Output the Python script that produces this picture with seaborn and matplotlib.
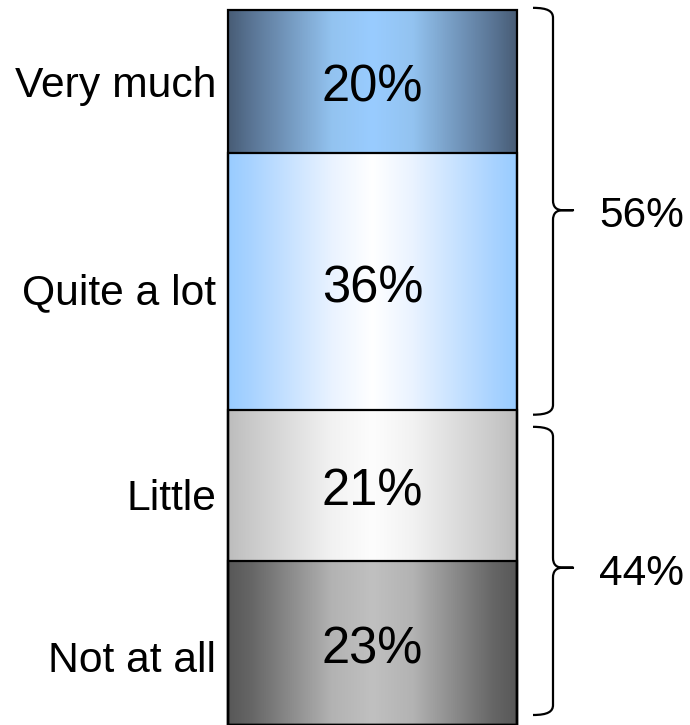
import numpy as np
import pandas as pd
import matplotlib
matplotlib.use("Agg")
import matplotlib.pyplot as plt
from matplotlib.path import Path
from matplotlib.patches import PathPatch
from matplotlib.colors import LinearSegmentedColormap
import seaborn as sns

# ---- data -------------------------------------------------------------
categories = ["Not at all", "Little", "Quite a lot", "Very much"]   # bottom -> top
shares = [23, 21, 36, 20]
group_members = [[0, 1], [2, 3]]   # "Not at all"+"Little", "Quite a lot"+"Very much"

# horizontal gradient stops (edge -> centre) for each segment
gradients = {
    "Very much":   ["#485d76", "#5a7595", "#93c3f0", "#99ccff"],
    "Quite a lot": ["#99ccff", "#a9d3ff", "#eaf3ff", "#ffffff"],
    "Little":      ["#bdbdbd", "#cacaca", "#f2f2f2", "#fdfdfd"],
    "Not at all":  ["#585858", "#666666", "#b3b3b3", "#c0c0c0"],
}

# ---- figure -----------------------------------------------------------
W, H, DPI = 690, 725, 100
sns.set_theme(style="white")
plt.rcParams["font.family"] = ["Liberation Sans", "DejaVu Sans"]

fig = plt.figure(figsize=(W / DPI, H / DPI), dpi=DPI)
ax = fig.add_axes([0, 0, 1, 1])

cum = np.cumsum(shares)
df = pd.DataFrame({"bar": [""] * len(categories), "top": cum, "level": categories})

BAR_W = 0.8
sns.barplot(data=df, x="bar", y="top", hue="level", hue_order=categories[::-1],
            dodge=False, legend=False, errorbar=None, width=BAR_W, ax=ax,
            edgecolor="black", linewidth=1.6)

# pixel-based limits so the bar sits at a fixed place on the canvas
px_per_unit = 289 / BAR_W
x_lo = -372.5 / px_per_unit
x_hi = x_lo + W / px_per_unit
y_hi = 100 * H / 715.0


def px2x(px):
    return x_lo + px / px_per_unit


def px2dy(px):
    return px * 100 / 715.0


# gradient fills under the bar outlines
patches = sorted(ax.patches, key=lambda p: p.get_height())
xs = np.linspace(0, 1, 400)
for i, (name, patch) in enumerate(zip(categories, patches)):
    patch.set_facecolor("none")
    patch.set_zorder(3)
    x0, w = patch.get_x(), patch.get_width()
    top = patch.get_height()
    bottom = cum[i - 1] if i > 0 else 0
    stops = gradients[name]
    cmap = LinearSegmentedColormap.from_list(
        name, [(0.0, stops[0]), (0.08, stops[1]), (0.36, stops[2]), (0.5, stops[3]),
               (0.64, stops[2]), (0.92, stops[1]), (1.0, stops[0])])
    ax.imshow(xs[None, :], cmap=cmap, vmin=0, vmax=1, aspect="auto",
              extent=[x0, x0 + w, bottom, top], interpolation="bilinear", zorder=2)
    mid = (bottom + top) / 2
    ax.text(0, mid - px2dy(7), f"{shares[i]}%", ha="center", va="center",
            fontsize=36.5, color="black", zorder=4)

# category labels to the left of the bar
label_shift = [18, 14, 12, 5]
for i, name in enumerate(categories):
    bottom = cum[i - 1] if i > 0 else 0
    mid = (bottom + cum[i]) / 2
    ax.text(px2x(216), mid - px2dy(label_shift[i]), name, ha="right", va="center",
            fontsize=30.7, color="black")

# curly braces with the group totals
brace_trim = [(1.4, -2.3), (-0.6, 0.3)]
r = px2dy(10)
for (members, (tb, tt)) in zip(group_members, brace_trim):
    lo = cum[members[0] - 1] if members[0] > 0 else 0
    hi = cum[members[-1]]
    total = sum(shares[m] for m in members)
    top, bot, tip = hi + tt, lo + tb, (lo + hi) / 2
    xo, xm, xt = px2x(533), px2x(553), px2x(573)
    xq = px2x(5) - px2x(0)
    verts = [
        (xo, top), (xm - xq, top), (xm, top - r * 0.35), (xm, top - r),
        (xm, tip + r),
        (xm, tip + r * 0.35), (xm + xq * 0.6, tip), (xm + 2 * xq, tip),
        (xt, tip),
        (xm + 2 * xq, tip),
        (xm + xq * 0.6, tip), (xm, tip - r * 0.35), (xm, tip - r),
        (xm, bot + r),
        (xm, bot + r * 0.35), (xm - xq, bot), (xo, bot),
    ]
    codes = [Path.MOVETO, Path.CURVE4, Path.CURVE4, Path.CURVE4,
             Path.LINETO,
             Path.CURVE4, Path.CURVE4, Path.CURVE4,
             Path.LINETO, Path.LINETO,
             Path.CURVE4, Path.CURVE4, Path.CURVE4,
             Path.LINETO,
             Path.CURVE4, Path.CURVE4, Path.CURVE4]
    ax.add_patch(PathPatch(Path(verts, codes), facecolor="none", edgecolor="black",
                           lw=1.6, capstyle="butt", joinstyle="round"))
    ax.text(px2x(599), tip - px2dy(6), f"{total}%", ha="left", va="center",
            fontsize=30.5, color="black")

ax.set_xlim(x_lo, x_hi)
ax.set_ylim(0, y_hi)
ax.axis("off")

fig.savefig("out.png", dpi=DPI, facecolor="white")
